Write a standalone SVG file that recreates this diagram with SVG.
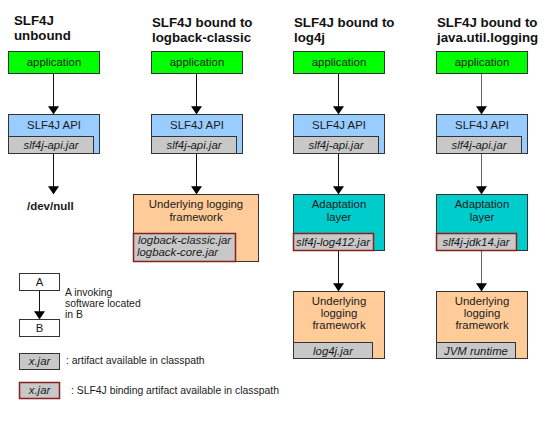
<svg xmlns="http://www.w3.org/2000/svg" width="555" height="424" viewBox="0 0 555 424">
<defs>
<marker id="ah" markerWidth="8" markerHeight="11" refX="10.5" refY="4" orient="auto" markerUnits="userSpaceOnUse" viewBox="0 0 11 8" preserveAspectRatio="none">
<path d="M0,0 L11,4 L0,8 z" fill="#000"/>
</marker>
<style>
.t{font-family:"Liberation Sans",Arial,sans-serif;font-size:11.4px;fill:#1a1a1a}
.s{font-size:10.4px}
.c{text-anchor:middle}
.i{font-style:italic}
.h{font-family:"Liberation Sans",Arial,sans-serif;font-size:13.3px;font-weight:bold;fill:#111}
.app{fill:#00ff00;stroke:#333;stroke-width:1}
.api{fill:#99ccff;stroke:#333;stroke-width:1}
.jar{fill:#c8c8c8;stroke:#333;stroke-width:1}
.bjar{fill:#c8c8c8;stroke:#8b1f1f;stroke-width:1.5}
.fw{fill:#ffcc99;stroke:#333;stroke-width:1}
.ad{fill:#00cccc;stroke:#333;stroke-width:1}
.lg{fill:#fff;stroke:#333;stroke-width:1}
.ln{stroke:#111;stroke-width:1;fill:none;marker-end:url(#ah)}
.lg2{stroke:#666;stroke-width:1;fill:none;marker-end:url(#ah)}
</style>
</defs>
<rect width="555" height="424" fill="#fff"/>

<g id="titles">
<text class="h" x="14" y="25">SLF4J</text>
<text class="h" x="14" y="40">unbound</text>
<text class="h" x="152" y="27">SLF4J bound to</text>
<text class="h" x="152" y="42">logback-classic</text>
<text class="h" x="294" y="27">SLF4J bound to</text>
<text class="h" x="294" y="42">log4j</text>
<text class="h" x="437" y="27">SLF4J bound to</text>
<text class="h" x="437" y="42">java.util.logging</text>
</g>

<g id="connectors">
<line class="ln" x1="53.5" y1="74" x2="53.5" y2="114"/>
<line class="ln" x1="53.5" y1="154" x2="53.5" y2="194"/>
<line class="ln" x1="196.5" y1="74" x2="196.5" y2="114"/>
<line class="ln" x1="196.5" y1="154" x2="196.5" y2="194"/>
<line class="ln" x1="338.5" y1="74" x2="338.5" y2="114"/>
<line class="ln" x1="338.5" y1="154" x2="338.5" y2="194"/>
<line class="ln" x1="338.5" y1="251" x2="338.5" y2="291"/>
<line class="lg2" x1="481.5" y1="74" x2="481.5" y2="114"/>
<line class="lg2" x1="481.5" y1="154" x2="481.5" y2="194"/>
<line class="lg2" x1="481.5" y1="251" x2="481.5" y2="291"/>
<line class="ln" x1="39.5" y1="291" x2="39.5" y2="319"/>
</g>

<g id="app1"><rect class="app" x="8.5" y="51.5" width="91" height="22"/><text class="t c" x="54" y="66">application</text></g>
<g id="api1"><rect class="api" x="8.5" y="114.5" width="91" height="39"/><text class="t c" x="54" y="129">SLF4J API</text>
<rect class="jar" x="8.5" y="136.5" width="85" height="17"/><text class="t c i" x="51" y="149">slf4j-api.jar</text></g>
<g id="devnull"><text class="t" x="27" y="210" style="font-weight:bold;font-size:11.5px">/dev/null</text></g>

<g id="app2"><rect class="app" x="151.5" y="51.5" width="91" height="22"/><text class="t c" x="197" y="66">application</text></g>
<g id="api2"><rect class="api" x="151.5" y="114.5" width="91" height="39"/><text class="t c" x="197" y="129">SLF4J API</text>
<rect class="jar" x="151.5" y="136.5" width="85" height="17"/><text class="t c i" x="194" y="149">slf4j-api.jar</text></g>
<g id="fw2"><rect class="fw" x="133.5" y="194.5" width="125" height="67"/>
<text class="t c" x="196" y="208">Underlying logging</text><text class="t c" x="196" y="221">framework</text>
<rect class="bjar" x="133.5" y="233.5" width="102" height="28"/>
<text class="t i" x="138" y="244">logback-classic.jar</text><text class="t i" x="137" y="256">logback-core.jar</text></g>

<g id="app3"><rect class="app" x="293.5" y="51.5" width="91" height="22"/><text class="t c" x="339" y="66">application</text></g>
<g id="api3"><rect class="api" x="293.5" y="114.5" width="91" height="39"/><text class="t c" x="339" y="129">SLF4J API</text>
<rect class="jar" x="293.5" y="136.5" width="85" height="17"/><text class="t c i" x="336" y="149">slf4j-api.jar</text></g>
<g id="ad3"><rect class="ad" x="293.5" y="194.5" width="91" height="56"/>
<text class="t c" x="339" y="208">Adaptation</text><text class="t c" x="339" y="221">layer</text>
<rect class="bjar" x="293.5" y="233.5" width="80" height="17"/><text class="t c i" x="333" y="246">slf4j-log412.jar</text></g>
<g id="fw3"><rect class="fw" x="293.5" y="291.5" width="91" height="67"/>
<text class="t c" x="339" y="305">Underlying</text><text class="t c" x="339" y="317">logging</text><text class="t c" x="339" y="329">framework</text>
<rect class="jar" x="293.5" y="342.5" width="79" height="16"/><text class="t c i" x="333" y="355">log4j.jar</text></g>

<g id="app4"><rect class="app" x="436.5" y="51.5" width="91" height="22"/><text class="t c" x="482" y="66">application</text></g>
<g id="api4"><rect class="api" x="436.5" y="114.5" width="91" height="39"/><text class="t c" x="482" y="129">SLF4J API</text>
<rect class="jar" x="436.5" y="136.5" width="85" height="17"/><text class="t c i" x="479" y="149">slf4j-api.jar</text></g>
<g id="ad4"><rect class="ad" x="436.5" y="194.5" width="91" height="56"/>
<text class="t c" x="482" y="208">Adaptation</text><text class="t c" x="482" y="221">layer</text>
<rect class="bjar" x="436.5" y="233.5" width="80" height="17"/><text class="t c i" x="476" y="246">slf4j-jdk14.jar</text></g>
<g id="fw4"><rect class="fw" x="436.5" y="291.5" width="91" height="67"/>
<text class="t c" x="482" y="305">Underlying</text><text class="t c" x="482" y="317">logging</text><text class="t c" x="482" y="329">framework</text>
<rect class="jar" x="436.5" y="342.5" width="79" height="16"/><text class="t c i" x="476" y="355">JVM runtime</text></g>

<g id="legendA"><rect class="lg" x="19.5" y="273.5" width="40" height="17"/><text class="t c" x="39.5" y="286">A</text></g>
<g id="legendB"><rect class="lg" x="19.5" y="319.5" width="40" height="17"/><text class="t c" x="39.5" y="332">B</text></g>
<g id="legendText"><text class="t s" x="65" y="296">A invoking</text><text class="t s" x="65" y="307">software located</text><text class="t s" x="65" y="318">in B</text></g>
<g id="legendJar"><rect class="jar" x="19.5" y="353.5" width="40" height="16"/><text class="t c i" x="39.5" y="365">x.jar</text>
<text class="t s" x="66" y="364">: artifact available in classpath</text></g>
<g id="legendBjar"><rect class="bjar" x="19.5" y="382.5" width="40" height="16"/><text class="t c i" x="39.5" y="394">x.jar</text>
<text class="t s" x="71" y="394">: SLF4J binding artifact available in classpath</text></g>
</svg>
